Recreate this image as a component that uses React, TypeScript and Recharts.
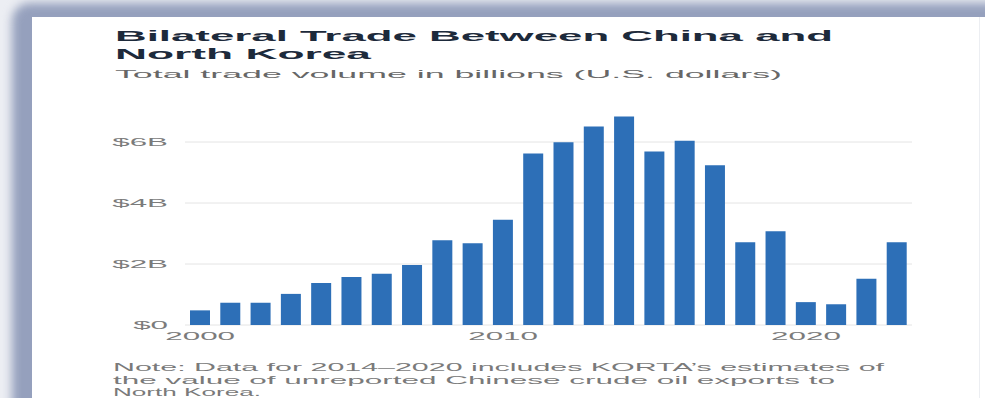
import { BarChart, Bar, XAxis, YAxis, CartesianGrid } from "recharts";

// Total China–North Korea trade, billions of USD
const years = [
  2000, 2001, 2002, 2003, 2004, 2005, 2006, 2007, 2008, 2009, 2010, 2011,
  2012, 2013, 2014, 2015, 2016, 2017, 2018, 2019, 2020, 2021, 2022, 2023,
];
const tradeVolume = [
  0.48, 0.73, 0.73, 1.02, 1.38, 1.57, 1.68, 1.97, 2.78, 2.68, 3.45, 5.62,
  5.99, 6.51, 6.84, 5.69, 6.04, 5.24, 2.71, 3.07, 0.75, 0.68, 1.52, 2.71,
];
const yTicks = [0, 2, 4, 6];

const title = ["Bilateral Trade Between China and", "North Korea"];
const subtitle = "Total trade volume in billions (U.S. dollars)";
const note = [
  "Note: Data for 2014\u20132020 includes KORTA\u2019s estimates of",
  "the value of unreported Chinese crude oil exports to",
  "North Korea.",
];

const data = years.map((year, i) => ({ year, v: tradeVolume[i] }));

const FONT = '"Liberation Sans", Arial, sans-serif';
// the reference picture is stretched sideways, so text is too
const SX = 2.85;

function YTick({ x, y, payload }: any) {
  const v = payload.value;
  return (
    <text
      transform={`translate(${x},${y + 4}) scale(${SX},1)`}
      textAnchor="end"
      fontSize={11}
      fontFamily={FONT}
      fill="#7b7b7b"
    >
      {v === 0 ? "$0" : `$${v}B`}
    </text>
  );
}

function XTick({ x, y, payload }: any) {
  return (
    <text
      transform={`translate(${x},${y + 15}) scale(${SX},1)`}
      textAnchor="middle"
      fontSize={11}
      fontFamily={FONT}
      fill="#7b7b7b"
    >
      {payload.value}
    </text>
  );
}

export default function App() {
  return (
    <div
      style={{
        position: "absolute",
        left: 0,
        top: 0,
        width: 985,
        height: 398,
        overflow: "hidden",
        background: "#eceef3",
      }}
    >
      {/* blue-grey shadow around the card */}
      <div
        style={{
          position: "absolute",
          left: 12,
          top: 3,
          width: 1010,
          height: 430,
          background: "#95a0bd",
          borderRadius: 18,
          filter: "blur(5px)",
        }}
      />
      <div
        style={{
          position: "absolute",
          left: 32,
          top: 17,
          width: 953,
          height: 381,
          background: "#fff",
        }}
      />
      <div
        style={{
          position: "absolute",
          left: 979,
          top: 17,
          width: 1,
          height: 381,
          background: "#eceef2",
        }}
      />

      <div style={{ position: "absolute", left: 0, top: 0 }}>
        <BarChart
          width={985}
          height={398}
          data={data}
          margin={{ top: 111.5, right: 73, bottom: 43, left: 0 }}
        >
          <CartesianGrid vertical={false} stroke="#e4e4e4" horizontalValues={yTicks} />
          <XAxis
            dataKey="year"
            height={30}
            interval={9}
            axisLine={false}
            tickLine={false}
            tickSize={0}
            tickMargin={0}
            tick={<XTick />}
          />
          <YAxis
            width={185}
            domain={[0, 7]}
            ticks={yTicks}
            axisLine={false}
            tickLine={false}
            tickSize={0}
            tickMargin={17}
            tick={<YTick />}
          />
          <Bar dataKey="v" fill="#2d6fb7" barSize={20} isAnimationActive={false} />
        </BarChart>
      </div>

      <svg
        width={985}
        height={398}
        style={{ position: "absolute", left: 0, top: 0, pointerEvents: "none" }}
        fontFamily={FONT}
      >
        <text x={115} y={40.5} fontSize={15} fontWeight="bold" fill="#1d2a3b" textLength={718} lengthAdjust="spacingAndGlyphs">
          {title[0]}
        </text>
        <text x={115} y={59} fontSize={15} fontWeight="bold" fill="#1d2a3b" textLength={256} lengthAdjust="spacingAndGlyphs">
          {title[1]}
        </text>
        <text x={115} y={77.5} fontSize={11} fill="#676767" textLength={667} lengthAdjust="spacingAndGlyphs">
          {subtitle}
        </text>
        <text x={113} y={371} fontSize={10.5} fill="#7a7a7a" textLength={771} lengthAdjust="spacingAndGlyphs">
          {note[0]}
        </text>
        <text x={113} y={384} fontSize={10.5} fill="#7a7a7a" textLength={722} lengthAdjust="spacingAndGlyphs">
          {note[1]}
        </text>
        <text x={113} y={396} fontSize={10.5} fill="#7a7a7a" textLength={148} lengthAdjust="spacingAndGlyphs">
          {note[2]}
        </text>
      </svg>
    </div>
  );
}
